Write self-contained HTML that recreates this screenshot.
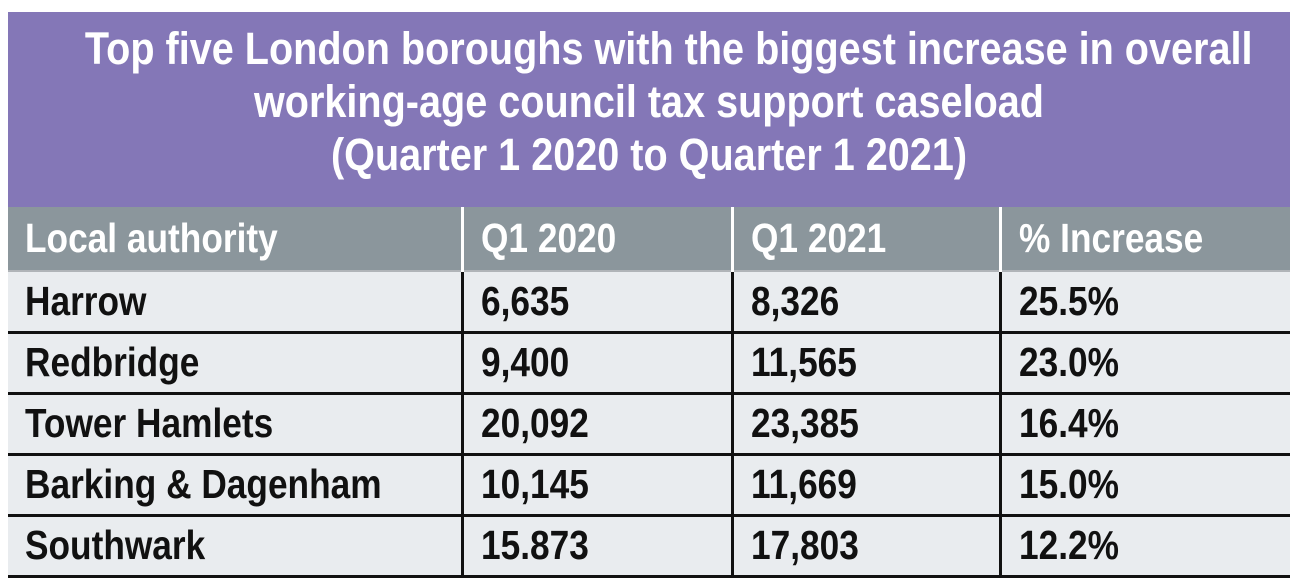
<!DOCTYPE html>
<html><head><meta charset="utf-8"><style>
body{margin:0;width:1299px;height:586px;background:#fff;font-family:"Liberation Sans",sans-serif;font-weight:bold;overflow:hidden;position:relative}
#title{position:absolute;left:8px;top:12px;width:1282px;height:195px;background:#8477b7;color:#fff;text-align:center;font-size:45px;line-height:53px;padding-top:10px;box-sizing:border-box}
#title span{display:block;transform:scaleX(0.88);transform-origin:center;white-space:nowrap}
table{position:absolute;left:8px;top:207px;border-collapse:collapse;width:1282px;table-layout:fixed}
td,th{font-size:41px;text-align:left;padding:0 0 0 17px;box-sizing:border-box;white-space:nowrap;overflow:visible}
td span,th span{display:inline-block;transform:scaleX(0.86);transform-origin:left center}
th{background:#8b969c;color:#fff;height:64px;border-left:3px solid #fff}
td{background:#e9ecef;color:#111;height:61px;border-left:3px solid #111;border-top:3px solid #111}
tr.first td{border-top:2px solid #b0b4b8}
tr.last td{border-bottom:3px solid #111}
th:first-child,td:first-child{border-left:none}
</style></head><body>
<div id="title"><span>Top five London boroughs with the biggest increase in overall</span><span>working-age council tax support caseload</span><span>(Quarter 1 2020 to Quarter 1 2021)</span></div>
<table>
<colgroup><col style="width:454px"><col style="width:270px"><col style="width:268px"><col style="width:290px"></colgroup>
<tr><th><span>Local authority</span></th><th><span>Q1 2020</span></th><th><span>Q1 2021</span></th><th><span>% Increase</span></th></tr>
<tr class="first"><td><span>Harrow</span></td><td><span>6,635</span></td><td><span>8,326</span></td><td><span>25.5%</span></td></tr>
<tr><td><span>Redbridge</span></td><td><span>9,400</span></td><td><span>11,565</span></td><td><span>23.0%</span></td></tr>
<tr><td><span>Tower Hamlets</span></td><td><span>20,092</span></td><td><span>23,385</span></td><td><span>16.4%</span></td></tr>
<tr><td><span>Barking &amp; Dagenham</span></td><td><span>10,145</span></td><td><span>11,669</span></td><td><span>15.0%</span></td></tr>
<tr class="last"><td><span>Southwark</span></td><td><span>15.873</span></td><td><span>17,803</span></td><td><span>12.2%</span></td></tr>
</table>
</body></html>
